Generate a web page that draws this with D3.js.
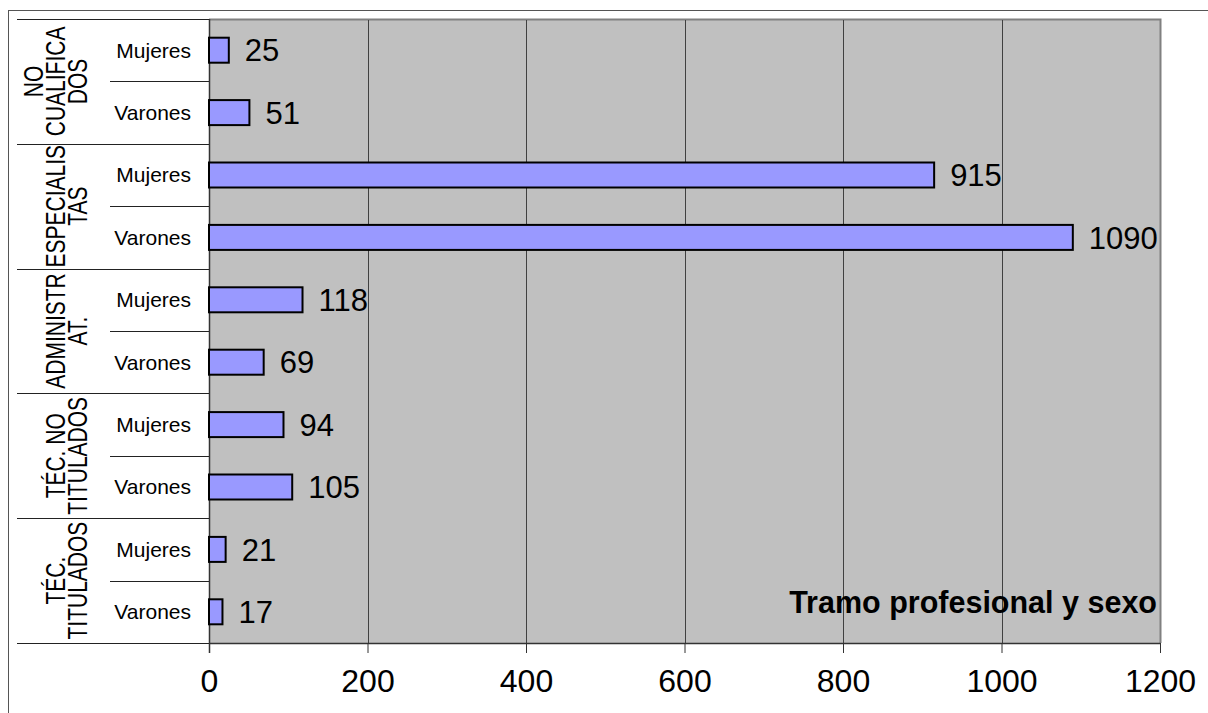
<!DOCTYPE html>
<html>
<head>
<meta charset="utf-8">
<script src="https://cdn.jsdelivr.net/npm/d3@7"></script>
<style>
  html, body { margin: 0; padding: 0; background: #fff; }
  svg { display: block; font-family: "Liberation Sans", Arial, sans-serif; }
</style>
</head>
<body>
<svg id="chart" width="1208" height="713"></svg>
<script>
// ---- data ----
const groups = ["NO CUALIFICADOS", "ESPECIALISTAS", "ADMINISTRAT.", "TÉC. NO TITULADOS", "TÉC. TITULADOS"];
const groupLabelLines = [["NO", "CUALIFICA", "DOS"], ["ESPECIALIS", "TAS"], ["ADMINISTR", "AT."], ["TÉC. NO", "TITULADOS"], ["TÉC.", "TITULADOS"]];
const sexes = ["Mujeres", "Varones"];
const mujeres = [25, 915, 118, 94, 21];
const varones = [51, 1090, 69, 105, 17];
const xTicks = [0, 200, 400, 600, 800, 1000, 1200];
const title = "Tramo profesional y sexo";

// rows built from the arrays (top to bottom)
const rows = [];
groups.forEach((g, i) => {
  rows.push({ group: g, gi: i, sex: sexes[0], value: mujeres[i], id: g + "|" + sexes[0] });
  rows.push({ group: g, gi: i, sex: sexes[1], value: varones[i], id: g + "|" + sexes[1] });
});

const svg = d3.select("#chart");
const plot = { left: 209, right: 1160, top: 19, bottom: 643 };

const x = d3.scaleLinear().domain([0, 1200]).range([plot.left, plot.right]);
const y = d3.scaleBand().domain(rows.map(r => r.id)).range([plot.top, plot.bottom]).padding(0);
const barH = 25;

// outer frame
svg.append("rect").attr("x", 8.5).attr("y", 10.5).attr("width", 1220).attr("height", 720)
  .attr("fill", "none").attr("stroke", "#555").attr("stroke-width", 1);

// plot area background
svg.append("rect").attr("x", plot.left).attr("y", plot.top)
  .attr("width", plot.right - plot.left).attr("height", plot.bottom - plot.top)
  .attr("fill", "#c0c0c0");
// plot border top and right (gray)
svg.append("path")
  .attr("d", `M${plot.left},${plot.top + 0.5}H${plot.right + 0.5}V${plot.bottom}`)
  .attr("fill", "none").attr("stroke", "#808080").attr("stroke-width", 2);

// gridlines
svg.append("g").selectAll("line").data(xTicks.filter(t => t > 0 && t < 1200)).join("line")
  .attr("x1", d => Math.round(x(d)) + 0.5).attr("x2", d => Math.round(x(d)) + 0.5)
  .attr("y1", plot.top + 1).attr("y2", plot.bottom)
  .attr("stroke", "#404040").attr("stroke-width", 1);

// x axis
const xAxis = d3.axisBottom(x).tickValues(xTicks).tickFormat(d3.format("d"))
  .tickSize(10).tickPadding(14).tickSizeOuter(0);
const gx = svg.append("g").attr("transform", `translate(0,${plot.bottom})`).call(xAxis);
gx.select(".domain").attr("stroke", "#333").attr("stroke-width", 1.5);
gx.selectAll(".tick line").attr("stroke", "#333");
gx.selectAll(".tick text").attr("font-size", 32).attr("fill", "#000")
  .attr("font-family", "'Liberation Sans', Arial, sans-serif")
  .attr("dy", 0).attr("y", 49);

// category axis (left) line
svg.append("line").attr("x1", plot.left + 0.5).attr("x2", plot.left + 0.5)
  .attr("y1", plot.top).attr("y2", plot.bottom + 10)
  .attr("stroke", "#333").attr("stroke-width", 1.5);

// group separators
const groupBounds = groups.map((g, i) => ({
  top: y(g + "|" + sexes[0]),
  bottom: y(g + "|" + sexes[1]) + y.bandwidth(),
  mid: y(g + "|" + sexes[1])
}));
const sepYs = [plot.top].concat(groupBounds.map(b => b.bottom));
svg.append("g").selectAll("line").data(sepYs).join("line")
  .attr("x1", 17).attr("x2", plot.left)
  .attr("y1", d => Math.round(d) + 0.5).attr("y2", d => Math.round(d) + 0.5)
  .attr("stroke", "#222").attr("stroke-width", 1.2);
svg.append("g").selectAll("line").data(groupBounds).join("line")
  .attr("x1", 110).attr("x2", plot.left)
  .attr("y1", d => Math.round(d.mid) + 0.5).attr("y2", d => Math.round(d.mid) + 0.5)
  .attr("stroke", "#222").attr("stroke-width", 1.2);

// sex labels
svg.append("g").selectAll("text").data(rows).join("text")
  .attr("x", 191).attr("y", d => y(d.id) + y.bandwidth() / 2)
  .attr("dy", "0.35em").attr("text-anchor", "end")
  .attr("font-size", 21).attr("fill", "#000")
  .text(d => d.sex);

// group labels (rotated, multiline)
groupBounds.forEach((b, i) => {
  const lines = groupLabelLines[i];
  const cy = (b.top + b.bottom) / 2;
  const n = lines.length;
  lines.forEach((ln, k) => {
    const cx = 77 - (n - 1 - k) * 22;
    svg.append("text")
      .attr("transform", `translate(${cx},${cy}) rotate(-90) scale(1,1.32)`)
      .attr("text-anchor", "middle").attr("dy", "0.36em")
      .attr("font-size", 21).attr("fill", "#000")
      .text(ln);
  });
});

// bars
svg.append("g").selectAll("rect").data(rows).join("rect")
  .attr("x", x(0))
  .attr("y", d => y(d.id) + (y.bandwidth() - barH) / 2)
  .attr("width", d => x(d.value) - x(0))
  .attr("height", barH)
  .attr("fill", "#9999ff").attr("stroke", "#000").attr("stroke-width", 2);

// value labels
svg.append("g").selectAll("text").data(rows).join("text")
  .attr("x", d => x(d.value) + 16)
  .attr("y", d => y(d.id) + y.bandwidth() / 2)
  .attr("dy", "0.36em")
  .attr("font-size", 31).attr("fill", "#000")
  .text(d => d.value);

// title inside plot
svg.append("text").attr("x", 1157).attr("y", 613)
  .attr("text-anchor", "end").attr("font-size", 30.5).attr("font-weight", "bold")
  .attr("fill", "#000").text(title);
</script>
</body>
</html>
